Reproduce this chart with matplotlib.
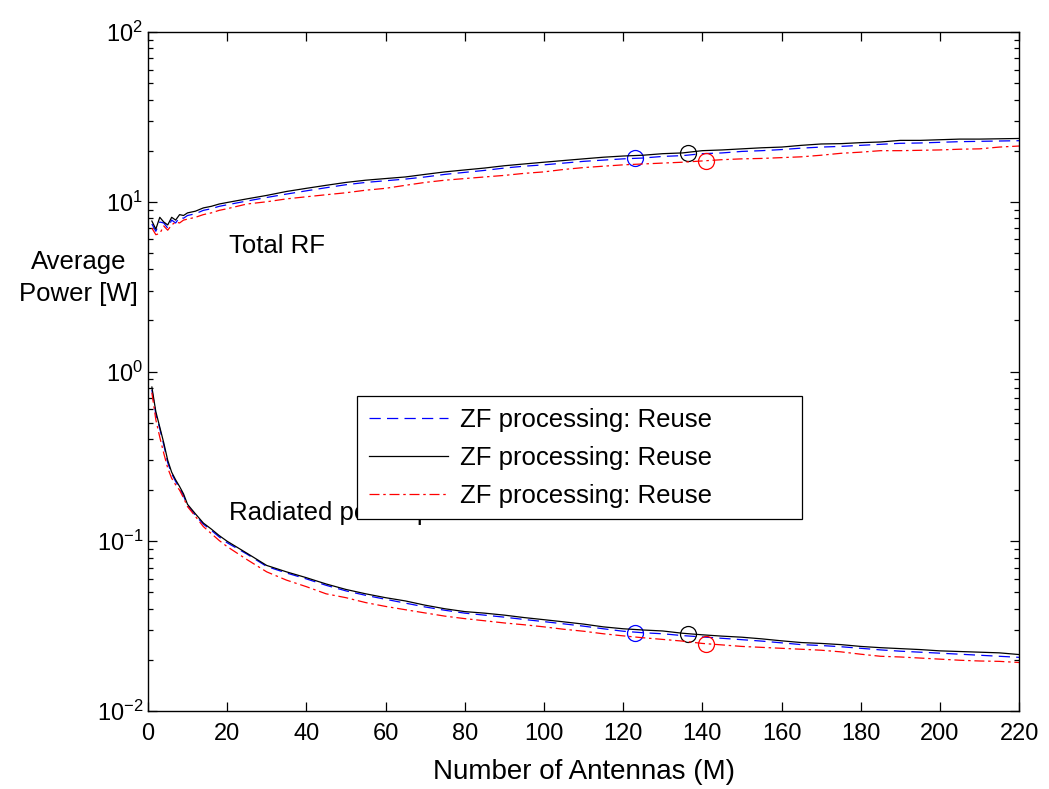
import matplotlib
matplotlib.use("Agg")
import matplotlib.pyplot as plt
from matplotlib.ticker import LogLocator, NullFormatter

plt.rcParams['font.family'] = ['Liberation Sans', 'DejaVu Sans']
plt.rcParams['mathtext.fontset'] = 'custom'
plt.rcParams['mathtext.rm'] = 'Liberation Sans'

M = [1, 2, 3, 4, 5, 6, 7, 8, 9, 10, 12, 14, 16, 18, 20, 25, 30, 35, 40, 45,
     50, 55, 60, 65, 70, 75, 80, 85, 90, 95, 100, 105, 110, 115, 120, 125,
     130, 135, 140, 145, 150, 155, 160, 165, 170, 175, 180, 185, 190, 195,
     200, 205, 210, 215, 220]

# Total RF power [W]
rf_blue = [7.4, 6.7, 7.6, 7.5, 7.0, 7.8, 7.5, 8.1, 8.0, 8.3, 8.5, 8.9, 9.1, 9.4, 9.6,
           10.1, 10.6, 11.1, 11.6, 12.1, 12.6, 13.0, 13.3, 13.6, 14.0, 14.5, 14.9,
           15.3, 15.8, 16.2, 16.5, 16.9, 17.3, 17.6, 17.9, 18.1, 18.5, 18.7, 19.2,
           19.4, 19.8, 20.0, 20.3, 20.7, 21.0, 21.2, 21.5, 21.8, 22.1, 22.2, 22.4,
           22.6, 22.7, 22.8, 22.9]
rf_black = [7.7, 6.9, 8.1, 7.6, 7.3, 8.1, 7.8, 8.4, 8.3, 8.6, 8.8, 9.2, 9.4, 9.7, 9.9,
            10.4, 10.9, 11.5, 12.0, 12.5, 13.0, 13.4, 13.7, 14.0, 14.5, 15.0, 15.4,
            15.8, 16.3, 16.7, 17.1, 17.5, 17.9, 18.3, 18.6, 18.8, 19.2, 19.4, 20.0,
            20.2, 20.5, 20.8, 21.0, 21.5, 21.9, 22.0, 22.3, 22.5, 23.0, 23.0, 23.2,
            23.4, 23.4, 23.5, 23.6]
rf_red = [7.0, 6.4, 6.5, 7.2, 6.8, 7.3, 7.6, 7.5, 7.8, 7.9, 8.1, 8.4, 8.6, 8.9, 9.1,
          9.7, 10.0, 10.4, 10.7, 11.0, 11.3, 11.7, 12.0, 12.5, 13.0, 13.4, 13.7,
          14.0, 14.3, 14.7, 15.0, 15.5, 15.9, 16.2, 16.5, 16.7, 16.9, 17.1, 17.4,
          17.7, 17.9, 18.0, 18.2, 18.4, 18.8, 19.3, 19.6, 20.0, 20.0, 20.1, 20.2,
          20.4, 20.5, 21.0, 21.3]

# Radiated power per BS [W]
rad_blue = [0.78, 0.56, 0.46, 0.37, 0.29, 0.25, 0.225, 0.205, 0.185, 0.162, 0.142,
            0.126, 0.116, 0.106, 0.098, 0.084, 0.071, 0.065, 0.060, 0.055, 0.051,
            0.048, 0.0455, 0.0432, 0.0410, 0.0392, 0.0377, 0.0367, 0.0357, 0.0346,
            0.0336, 0.0326, 0.0316, 0.0305, 0.0295, 0.0289, 0.0285, 0.0278, 0.0273,
            0.0268, 0.0263, 0.0258, 0.0252, 0.0246, 0.0243, 0.0239, 0.0234, 0.0229,
            0.0225, 0.0222, 0.0219, 0.0216, 0.0213, 0.0210, 0.0207]
rad_black = [0.81, 0.58, 0.47, 0.38, 0.30, 0.255, 0.23, 0.21, 0.19, 0.165, 0.145,
             0.128, 0.118, 0.108, 0.100, 0.085, 0.072, 0.066, 0.061, 0.056, 0.052,
             0.049, 0.0465, 0.0445, 0.0420, 0.0400, 0.0385, 0.0377, 0.0367, 0.0355,
             0.0345, 0.0335, 0.0325, 0.0313, 0.0305, 0.0300, 0.0296, 0.0287, 0.0281,
             0.0276, 0.0272, 0.0266, 0.0259, 0.0253, 0.0250, 0.0246, 0.0240, 0.0236,
             0.0233, 0.0230, 0.0226, 0.0224, 0.0222, 0.0220, 0.0215]
rad_red = [0.75, 0.52, 0.41, 0.33, 0.27, 0.235, 0.215, 0.20, 0.18, 0.16, 0.14,
           0.122, 0.111, 0.101, 0.093, 0.078, 0.066, 0.059, 0.054, 0.049, 0.0465,
           0.0435, 0.0413, 0.0395, 0.0378, 0.0362, 0.0350, 0.0340, 0.0330, 0.0322,
           0.0313, 0.0303, 0.0295, 0.0285, 0.0277, 0.0270, 0.0264, 0.0258, 0.0250,
           0.0245, 0.0240, 0.0237, 0.0234, 0.0231, 0.0228, 0.0223, 0.0216, 0.0210,
           0.0208, 0.0205, 0.0202, 0.0199, 0.0197, 0.0196, 0.0193]

# circle markers (M position, total RF value, radiated value)
mark_M = [123, 136.5, 141]
mark_rf = [18.0, 19.5, 17.5]
mark_rad = [0.0289, 0.0284, 0.0247]

labels = ['ZF processing: Reuse', 'ZF processing: Reuse', 'ZF processing: Reuse']
colors = ['#0000ff', '#000000', '#ff0000']
styles = [(0, (9, 5)), '-', (0, (8, 3, 2, 3))]
xticks = list(range(0, 221, 20))

FS = 18.5

fig = plt.figure(figsize=(10.49, 7.89), dpi=100)
ax = fig.add_axes([0.141, 0.0989, 0.8305, 0.8605])

rfs = [rf_blue, rf_black, rf_red]
rads = [rad_blue, rad_black, rad_red]
for i in range(3):
    ax.plot(M, rfs[i], color=colors[i], linestyle=styles[i], lw=0.9, label=labels[i])
    ax.plot(M, rads[i], color=colors[i], linestyle=styles[i], lw=0.9)
    ax.plot([mark_M[i]], [mark_rf[i]], 'o', mfc='none', mec=colors[i], ms=11.5, mew=0.9)
    ax.plot([mark_M[i]], [mark_rad[i]], 'o', mfc='none', mec=colors[i], ms=11.5, mew=0.9)

ax.set_yscale('log')
ax.set_xlim(0, 220)
ax.set_ylim(1e-2, 1e2)
ax.set_xticks(xticks)
ax.yaxis.set_minor_locator(LogLocator(base=10, subs=range(2, 10), numticks=20))
ax.yaxis.set_minor_formatter(NullFormatter())
ax.tick_params(which='both', direction='in', top=True, right=True, labelsize=17)
ax.tick_params(which='major', length=6.7, width=0.9)
ax.tick_params(which='minor', length=3.8, width=0.9)
ax.tick_params(axis='x', which='major', pad=9)
for s in ax.spines.values():
    s.set_linewidth(1.0)

ax.set_xlabel('Number of Antennas (M)', fontsize=20, labelpad=10)
ax.set_ylabel('Average\nPower [W]', fontsize=FS, rotation=0, ha='center', va='center',
              linespacing=1.45)
ax.yaxis.set_label_coords(-0.080, 0.638)

ax.text(20.5, 5.5, 'Total RF', fontsize=FS, ha='left', va='center')
ax.text(20.5, 0.147, 'Radiated power per BS', fontsize=FS, ha='left', va='center')

leg = ax.legend(loc='upper left', bbox_to_anchor=(0.240, 0.286, 0.511, 0.178),
                mode='expand', fontsize=FS,
                frameon=True, fancybox=False, edgecolor='black', framealpha=1,
                handlelength=3.1, borderpad=0.45, labelspacing=0.55,
                handletextpad=0.45, borderaxespad=0)
leg.get_frame().set_linewidth(0.9)

fig.savefig('out.png', dpi=100)
